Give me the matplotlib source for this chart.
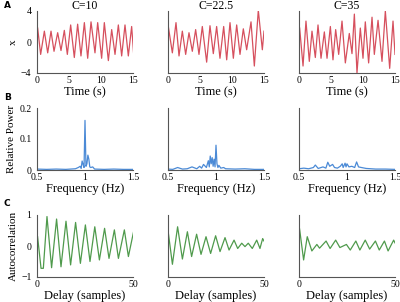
import matplotlib.pyplot as plt

plt.rcParams['font.family'] = ['Liberation Serif', 'DejaVu Serif']

# --- row A: time series (peaks / troughs) ---
tA1 = [0.10, 0.57, 1.15, 1.67, 2.19, 2.66, 3.23, 3.75, 4.27, 4.74, 5.26, 5.83, 6.35, 6.87,
       7.40, 7.92, 8.44, 9.06, 9.48, 10.1, 10.52, 11.15, 11.67, 12.19, 12.71, 13.23, 13.75,
       14.27, 14.79, 15.1]
xA1 = [1.8, -1.6, 1.4, -1.4, 1.4, -1.2, 1.2, -1.1, 1.5, -1.6, 2.2, -2.0, 2.3, -1.8,
       2.5, -2.1, 2.6, -1.4, 2.5, -2.1, 2.5, -2.4, 1.6, -1.6, 2.2, -1.8, 2.2,
       -1.8, 2.0, -1.5]

tA2 = [0.05, 0.68, 1.25, 1.72, 2.24, 2.76, 3.28, 3.80, 4.32, 4.84, 5.36, 6.04, 6.56, 7.08,
       7.60, 8.12, 8.70, 9.17, 9.69, 10.21, 10.73, 11.25, 11.77, 12.29, 12.97, 13.49, 14.11,
       14.74, 15.0]
xA2 = [2.0, -1.4, 2.5, -1.8, 1.4, -1.6, 1.2, -1.2, 1.6, -1.6, 2.0, -2.6, 2.1, -1.5,
       2.0, -2.1, 2.0, -2.3, 2.5, -2.1, 2.2, -1.6, 1.7, -1.0, 2.6, -3.1, 4.1,
       -1.0, 1.4]

tA3 = [0.10, 0.63, 1.09, 1.61, 2.03, 2.55, 2.97, 3.44, 3.96, 4.38, 4.90, 5.31, 5.73, 6.20,
       6.72, 7.24, 7.86, 8.28, 8.65, 9.06, 9.58, 10.0, 10.36, 10.88, 11.41, 11.77, 12.35,
       12.97, 13.49, 14.17, 14.69, 15.0]
xA3 = [1.8, -3.1, 2.7, -2.5, 1.4, -2.0, 2.2, -2.1, 1.3, -2.1, 2.0, -2.3, 1.6, -1.6,
       2.7, -2.7, 1.1, -1.5, 3.6, -4.0, 1.8, -2.1, 2.6, -2.7, 3.2, -1.6, 2.8,
       -2.5, 4.0, -3.4, 2.7, -1.6]

# --- row B: relative power spectra ---
fB1 = [0.5, 0.6, 0.7, 0.8, 0.85, 0.9, 0.93, 0.95, 0.96, 0.97, 0.98, 0.99, 1.0, 1.01,
       1.02, 1.03, 1.04, 1.05, 1.06, 1.08, 1.1, 1.2, 1.3, 1.4, 1.5]
pB1 = [0.003, 0.002, 0.003, 0.002, 0.003, 0.004, 0.008, 0.012, 0.005, 0.029, 0.018, 0.008,
       0.16, 0.012, 0.02, 0.048, 0.035, 0.01, 0.008, 0.01, 0.003, 0.002, 0.003, 0.002, 0.002]

fB2 = [0.5, 0.55, 0.6, 0.65, 0.7, 0.75, 0.8, 0.83, 0.85, 0.87, 0.9, 0.92, 0.93, 0.94,
       0.95, 0.96, 0.97, 0.98, 0.99, 1.0, 1.01, 1.02, 1.03, 1.05, 1.08, 1.1, 1.2, 1.3, 1.4, 1.5]
pB2 = [0.003, 0.002, 0.008, 0.003, 0.004, 0.01, 0.004, 0.012, 0.006, 0.018, 0.008, 0.03,
       0.01, 0.045, 0.02, 0.04, 0.012, 0.035, 0.01, 0.08, 0.02, 0.008, 0.015, 0.006,
       0.008, 0.004, 0.003, 0.004, 0.002, 0.002]

fB3 = [0.5, 0.55, 0.6, 0.65, 0.67, 0.7, 0.75, 0.78, 0.8, 0.82, 0.85, 0.87, 0.9, 0.93,
       0.95, 0.96, 0.98, 0.99, 1.0, 1.02, 1.05, 1.08, 1.1, 1.12, 1.15, 1.2, 1.3, 1.4, 1.5]
pB3 = [0.004, 0.006, 0.004, 0.008, 0.016, 0.005, 0.01, 0.006, 0.025, 0.012, 0.018, 0.008,
       0.006, 0.012, 0.02, 0.008, 0.022, 0.01, 0.02, 0.01, 0.012, 0.008, 0.026, 0.01,
       0.008, 0.005, 0.003, 0.003, 0.002]

# --- row C: autocorrelation ---
dC1 = [0.3, 2.1, 3.3, 5.2, 7.6, 10.2, 12.5, 15.1, 17.5, 20.1, 22.6, 25.2, 27.6, 30.1,
       32.5, 35.2, 37.5, 40.3, 42.4, 45.5, 47.6, 50.3]
aC1 = [0.3, -0.72, -0.72, 0.95, -0.7, 0.87, -0.67, 0.8, -0.61, 0.76, -0.56, 0.68, -0.5,
       0.62, -0.45, 0.57, -0.4, 0.52, -0.4, 0.52, -0.34, 0.46]

dC2 = [0.2, 2.3, 5.0, 7.5, 10.1, 12.3, 14.9, 17.2, 19.8, 22.2, 24.8, 27.1, 29.7, 31.8,
       34.4, 36.3, 38.4, 40.1, 41.8, 43.9, 46.2, 47.9, 49.3, 50.0]
aC2 = [0.41, -0.59, 0.62, -0.42, 0.46, -0.34, 0.38, -0.27, 0.3, -0.24, 0.33, -0.18,
       0.27, -0.13, 0.19, -0.08, 0.09, -0.02, 0.09, -0.08, 0.19, -0.08, 0.24, 0.16]

dC3 = [0.3, 2.4, 4.3, 6.7, 9.3, 10.7, 14.1, 16.2, 19.1, 21.3, 24.7, 26.7, 29.6, 31.7,
       34.5, 36.8, 39.8, 41.8, 44.5, 46.4, 49.3, 50.0]
aC3 = [0.55, -0.45, 0.3, -0.16, 0.05, -0.07, 0.16, -0.08, 0.19, -0.05, 0.05, -0.13,
       0.16, -0.13, 0.19, -0.1, 0.16, -0.13, 0.16, -0.16, 0.19, 0.1]

titles = ['C=10', 'C=22.5', 'C=35']
red, blue, green = '#d6505e', '#4b8ad6', '#4f9a4c'
spine_col = '#555555'

fig = plt.figure(figsize=(4.0, 3.02), dpi=100)
lefts = [37 / 400, 168 / 400, 299 / 400]
bottoms = [1 - 73 / 302, 1 - 170 / 302, 1 - 277 / 302]
w, h = 96 / 400, 62 / 302

rows = [
    [(tA1, xA1), (tA2, xA2), (tA3, xA3)],
    [(fB1, pB1), (fB2, pB2), (fB3, pB3)],
    [(dC1, aC1), (dC2, aC2), (dC3, aC3)],
]
colors = [red, blue, green]
xlims = [(0, 15), (0.5, 1.5), (0, 50)]
ylims = [(-4, 4), (0, 0.2), (-1, 1)]
xticks = [[0, 5, 10, 15], [0.5, 1, 1.5], [0, 50]]
xticklabels = [['0', '5', '10', '15'], ['0.5', '1', '1.5'], ['0', '50']]
yticks = [[-4, 0, 4], [0, 0.1, 0.2], [-1, 0, 1]]
yticklabels = [['\u22124', '0', '4'], ['0', '0.1', '0.2'], ['\u22121', '0', '1']]
xlabels = ['Time (s)', 'Frequency (Hz)', 'Delay (samples)']
ylabels = ['x', 'Relative Power', 'Autocorrelation']

for r in range(3):
    for c in range(3):
        ax = fig.add_axes([lefts[c], bottoms[r], w, h])
        xs, ys = rows[r][c]
        ax.plot(xs, ys, color=colors[r], lw=0.9, solid_joinstyle='round')
        ax.set_xlim(*xlims[r])
        ax.set_ylim(*ylims[r])
        for s in ['top', 'right']:
            ax.spines[s].set_visible(False)
        for s in ['left', 'bottom']:
            ax.spines[s].set_color(spine_col)
            ax.spines[s].set_linewidth(0.8)
        ax.set_xticks(xticks[r])
        ax.set_xticklabels(xticklabels[r])
        ax.tick_params(axis='x', length=0, pad=2, labelsize=7)
        ax.tick_params(axis='y', length=0, pad=4, labelsize=7)
        ax.set_xlabel(xlabels[r], fontsize=9, labelpad=1)
        if c == 0:
            ax.set_yticks(yticks[r])
            ax.set_yticklabels(yticklabels[r])
            ax.set_ylabel(ylabels[r], fontsize=8, labelpad=2)
        else:
            ax.set_yticks([])
        if r == 0:
            ax.text(0.5, 1.08, titles[c], transform=ax.transAxes, fontsize=8.5,
                    ha='center', va='center')

for letter, ypix in [('A', 6), ('B', 98), ('C', 204)]:
    fig.text(4 / 400, 1 - ypix / 302, letter, fontsize=6.5, fontweight='bold',
             family='DejaVu Sans', va='center', ha='left')

fig.savefig('out.png', dpi=100)
